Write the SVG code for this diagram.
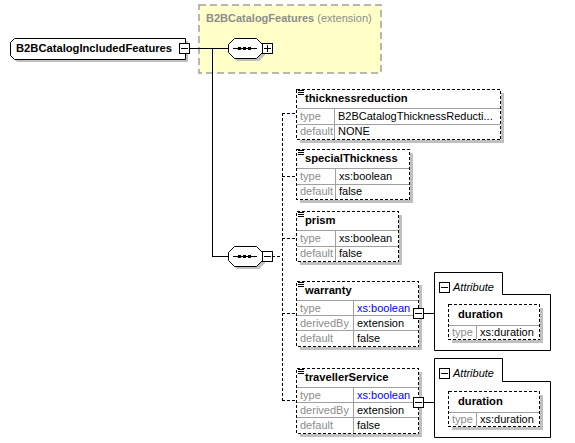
<svg xmlns="http://www.w3.org/2000/svg" width="575" height="443" viewBox="0 0 575 443">
<defs>
<style>
text{font-family:"Liberation Sans",Arial,sans-serif;font-size:11px;fill:#000}
.b{font-weight:bold;font-size:11.2px}
.g{fill:#8c8c8c}
.blue{fill:#0000ff}
.it{font-style:italic}
.shadow{fill:#c0c0c0;stroke:none}
.ebox{fill:#fff;stroke:#000;stroke-width:1;stroke-dasharray:3 2;shape-rendering:crispEdges}
.row{stroke:#a0a0a0;stroke-width:1;fill:none;shape-rendering:crispEdges}
.conn{stroke:#000;stroke-width:1;fill:none;shape-rendering:crispEdges}
.dconn{stroke:#000;stroke-width:1;fill:none;stroke-dasharray:3 2;shape-rendering:crispEdges}
.btn{fill:#fff;stroke:#000;stroke-width:1.3;shape-rendering:crispEdges}
.icon{stroke:#000;stroke-width:1;shape-rendering:crispEdges}
</style>
</defs>
<rect x="0" y="0" width="575" height="443" fill="#fff"/>

<g id="ext-B2BCatalogFeatures">
<rect x="199" y="5" width="182" height="68" fill="#ffffc8" stroke="#a0a0a0" stroke-width="1.5" stroke-dasharray="7 4"/>
<text x="206" y="22" class="g"><tspan font-weight="bold">B2BCatalogFeatures</tspan> (extension)</text>
</g>

<g id="connectors">
<line class="conn" x1="189" y1="48.5" x2="228" y2="48.5"/>
<polyline class="conn" points="212.5,48.5 212.5,256.5 228,256.5"/>
<line class="dconn" x1="272" y1="256.5" x2="282" y2="256.5"/>
<line class="dconn" x1="282.5" y1="113" x2="282.5" y2="400"/>
<line class="dconn" x1="282" y1="113.5" x2="296" y2="113.5"/>
<line class="dconn" x1="282" y1="176.5" x2="296" y2="176.5"/>
<line class="dconn" x1="282" y1="238.5" x2="296" y2="238.5"/>
<line class="dconn" x1="282" y1="313.5" x2="296" y2="313.5"/>
<line class="dconn" x1="282" y1="400.5" x2="296" y2="400.5"/>
<line class="conn" x1="423" y1="313.5" x2="434" y2="313.5"/>
<line class="conn" x1="423" y1="402.5" x2="434" y2="402.5"/>
</g>

<g id="root-B2BCatalogIncludedFeatures">
<path class="shadow" d="M17,41 H188 V62 H17 L13,58 V45 Z"/>
<path d="M14.5,38.5 H185.5 V59.5 H14.5 L10.5,55.5 V42.5 Z" fill="#fff" stroke="#000" stroke-width="1"/>
<text x="16" y="52" class="b">B2BCatalogIncludedFeatures</text>
<rect class="btn" x="179.5" y="43.5" width="10" height="10"/>
<line class="icon" x1="181" y1="48.5" x2="188" y2="48.5"/>
</g>

<g id="sequence-1">
<path class="shadow" d="M237,41 H259 L265,47 V55 L259,61 H237 L231,55 V47 Z"/>
<path d="M234.5,38.5 H256.5 L262.5,44.5 V52.5 L256.5,58.5 H234.5 L228.5,52.5 V44.5 Z" fill="#fff" stroke="#000" stroke-width="1"/>
<line class="icon" x1="233" y1="48.5" x2="257" y2="48.5"/>
<rect x="238" y="47" width="3" height="3" fill="#000"/>
<rect x="243" y="47" width="3" height="3" fill="#000"/>
<rect x="248" y="47" width="3" height="3" fill="#000"/>
<rect class="btn" x="262.5" y="43.5" width="10" height="10"/>
<line class="icon" x1="264" y1="48.5" x2="271" y2="48.5"/>
<line class="icon" x1="267.5" y1="45" x2="267.5" y2="52"/>
</g>

<g id="sequence-2">
<path class="shadow" d="M237,249 H259 L265,255 V263 L259,269 H237 L231,263 V255 Z"/>
<path d="M234.5,246.5 H256.5 L262.5,252.5 V260.5 L256.5,266.5 H234.5 L228.5,260.5 V252.5 Z" fill="#fff" stroke="#000" stroke-width="1"/>
<line class="icon" x1="233" y1="256.5" x2="257" y2="256.5"/>
<rect x="238" y="255" width="3" height="3" fill="#000"/>
<rect x="243" y="255" width="3" height="3" fill="#000"/>
<rect x="248" y="255" width="3" height="3" fill="#000"/>
<rect class="btn" x="262.5" y="251.5" width="10" height="10"/>
<line class="icon" x1="264" y1="256.5" x2="271" y2="256.5"/>
</g>

<g id="el-thicknessreduction">
<rect class="shadow" x="300" y="93" width="204" height="50"/>
<rect class="ebox" x="296.5" y="89.5" width="204" height="50"/>
<path class="row" d="M297,108.5 H500 M297,124.5 H500 M334.5,108 V139"/>
<path class="icon" d="M298,90.5 H304 M298,92.5 H304 M298,94.5 H304"/>
<text x="305" y="102" class="b">thicknessreduction</text>
<text x="300" y="120" class="g">type</text>
<text x="338" y="120">B2BCatalogThicknessReducti...</text>
<text x="300" y="135" class="g">default</text>
<text x="338" y="135">NONE</text>
</g>

<g id="el-specialThickness">
<rect class="shadow" x="300" y="153" width="113" height="50"/>
<rect class="ebox" x="296.5" y="149.5" width="113" height="50"/>
<path class="row" d="M297,168.5 H409 M297,184.5 H409 M335.5,168 V199"/>
<path class="icon" d="M298,150.5 H304 M298,152.5 H304 M298,154.5 H304"/>
<text x="305" y="162" class="b">specialThickness</text>
<text x="300" y="180" class="g">type</text>
<text x="339" y="180">xs:boolean</text>
<text x="300" y="195" class="g">default</text>
<text x="339" y="195">false</text>
</g>

<g id="el-prism">
<rect class="shadow" x="300" y="215" width="102" height="50"/>
<rect class="ebox" x="296.5" y="211.5" width="102" height="50"/>
<path class="row" d="M297,230.5 H398 M297,246.5 H398 M335.5,230 V261"/>
<path class="icon" d="M298,212.5 H304 M298,214.5 H304 M298,216.5 H304"/>
<text x="305" y="224" class="b">prism</text>
<text x="300" y="242" class="g">type</text>
<text x="339" y="242">xs:boolean</text>
<text x="300" y="257" class="g">default</text>
<text x="339" y="257">false</text>
</g>

<g id="el-warranty">
<rect class="shadow" x="300" y="285" width="122" height="65"/>
<rect class="ebox" x="296.5" y="281.5" width="122" height="65"/>
<path class="row" d="M297,300.5 H418 M297,315.5 H418 M297,330.5 H418 M353.5,300 V346"/>
<path class="icon" d="M298,282.5 H304 M298,284.5 H304 M298,286.5 H304"/>
<text x="305" y="294" class="b">warranty</text>
<text x="300" y="312" class="g">type</text>
<text x="357" y="312" class="blue">xs:boolean</text>
<text x="300" y="327" class="g">derivedBy</text>
<text x="357" y="327">extension</text>
<text x="300" y="342" class="g">default</text>
<text x="357" y="342">false</text>
<rect class="btn" x="413.5" y="308.5" width="10" height="10"/>
<line class="icon" x1="415" y1="313.5" x2="422" y2="313.5"/>
</g>

<g id="attr-warranty">
<path d="M434.5,272.5 H502.5 V294.5 H550.5 V350.5 H434.5 Z" fill="#fff" stroke="#000" stroke-width="1"/>
<rect class="btn" x="439.5" y="282.5" width="10" height="10"/>
<line class="icon" x1="441" y1="287.5" x2="448" y2="287.5"/>
<text x="453" y="291" class="it">Attribute</text>
<rect class="shadow" x="452" y="308" width="91" height="35"/>
<rect class="ebox" x="448.5" y="304.5" width="91" height="35"/>
<path class="row" d="M449,325.5 H539 M476.5,325 V339"/>
<text x="458" y="318" class="b">duration</text>
<text x="452" y="336" class="g">type</text>
<text x="480" y="336">xs:duration</text>
</g>

<g id="el-travellerService">
<rect class="shadow" x="300" y="372" width="122" height="65"/>
<rect class="ebox" x="296.5" y="368.5" width="122" height="65"/>
<path class="row" d="M297,387.5 H418 M297,402.5 H418 M297,417.5 H418 M353.5,387 V433"/>
<path class="icon" d="M298,369.5 H304 M298,371.5 H304 M298,373.5 H304"/>
<text x="305" y="381" class="b">travellerService</text>
<text x="300" y="399" class="g">type</text>
<text x="357" y="399" class="blue">xs:boolean</text>
<text x="300" y="414" class="g">derivedBy</text>
<text x="357" y="414">extension</text>
<text x="300" y="429" class="g">default</text>
<text x="357" y="429">false</text>
<rect class="btn" x="413.5" y="397.5" width="10" height="10"/>
<line class="icon" x1="415" y1="402.5" x2="422" y2="402.5"/>
</g>

<g id="attr-travellerService">
<path d="M434.5,358.5 H502.5 V381.5 H550.5 V437.5 H434.5 Z" fill="#fff" stroke="#000" stroke-width="1"/>
<rect class="btn" x="439.5" y="368.5" width="10" height="10"/>
<line class="icon" x1="441" y1="373.5" x2="448" y2="373.5"/>
<text x="453" y="377" class="it">Attribute</text>
<rect class="shadow" x="452" y="395" width="91" height="35"/>
<rect class="ebox" x="448.5" y="391.5" width="91" height="35"/>
<path class="row" d="M449,412.5 H539 M476.5,412 V426"/>
<text x="458" y="405" class="b">duration</text>
<text x="452" y="423" class="g">type</text>
<text x="480" y="423">xs:duration</text>
</g>
</svg>
